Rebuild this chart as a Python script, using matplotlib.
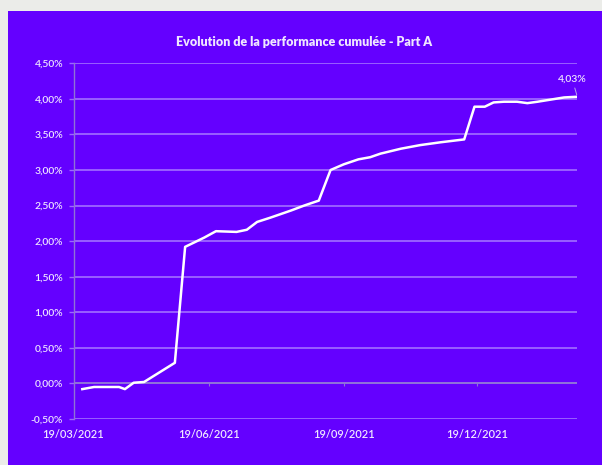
import matplotlib
matplotlib.use("Agg")
import matplotlib.pyplot as plt
import matplotlib.dates as mdates
from matplotlib.ticker import FuncFormatter, MultipleLocator
import pandas as pd

title = "Evolution de la performance cumulée - Part A"

dates = ["2021-03-25", "2021-04-02", "2021-04-15", "2021-04-19", "2021-04-23",
         "2021-04-29", "2021-05-06", "2021-05-27", "2021-06-03", "2021-06-10",
         "2021-06-16", "2021-06-24", "2021-07-08", "2021-07-15", "2021-07-22",
         "2021-07-31", "2021-08-07", "2021-08-14", "2021-08-23", "2021-09-02",
         "2021-09-10", "2021-09-19", "2021-09-29", "2021-10-07", "2021-10-14",
         "2021-10-28", "2021-11-10", "2021-11-24", "2021-12-10", "2021-12-17",
         "2021-12-24", "2021-12-30", "2022-01-06", "2022-01-15", "2022-01-22",
         "2022-01-29", "2022-02-07", "2022-02-16", "2022-02-25"]
perf = [-0.08, -0.05, -0.05, -0.05, -0.08,
        0.01, 0.02, 0.29, 1.92, 1.99,
        2.05, 2.14, 2.13, 2.16, 2.27,
        2.33, 2.38, 2.43, 2.50, 2.57,
        3.00, 3.08, 3.15, 3.18, 3.23,
        3.30, 3.35, 3.39, 3.43, 3.89,
        3.89, 3.95, 3.96, 3.96, 3.94,
        3.96, 3.99, 4.02, 4.03]
xtick_dates = ["2021-03-19", "2021-06-19", "2021-09-19", "2021-12-19"]
last_label = "4,03%"

x = pd.to_datetime(dates)
xt = pd.to_datetime(xtick_dates)

BG = "#ebece9"
PANEL = "#6400ff"
GRID = "#9d66ff"
AXIS = "#8f73d6"
TXT = "#efe6ff"
FONT = ["Lato", "DejaVu Sans"]

fig = plt.figure(figsize=(6.02, 4.65), dpi=100)
fig.patch.set_facecolor(BG)

bg = fig.add_axes([8 / 602, 0, 1 - 8 / 602, (465 - 10.7) / 465], zorder=-5)
bg.set_facecolor(PANEL)
bg.set_xticks([])
bg.set_yticks([])
for s in bg.spines.values():
    s.set_visible(False)

ax = fig.add_axes([73.5 / 602, (465 - 419) / 465, (577.3 - 73.5) / 602, (419 - 63.3) / 465], zorder=1)
ax.set_facecolor("none")

ax.plot(x, perf, color="white", lw=1.8, solid_joinstyle="round", zorder=3)

ax.set_ylim(-0.5, 4.5)
ax.set_xlim(pd.Timestamp("2021-03-19"), pd.Timestamp("2022-02-25"))
ax.yaxis.set_major_locator(MultipleLocator(0.5))
ax.yaxis.set_major_formatter(FuncFormatter(lambda v, p: f"{v:.2f}%".replace(".", ",")))
ax.set_xticks(xt)
ax.xaxis.set_major_formatter(mdates.DateFormatter("%d/%m/%Y"))

ax.grid(axis="y", color=GRID, lw=1.3, zorder=1)
for s in ["top", "right", "bottom"]:
    ax.spines[s].set_visible(False)
ax.spines["left"].set_color(AXIS)
ax.spines["left"].set_linewidth(1.0)
ax.axhline(0, color=AXIS, lw=1.3, zorder=2)

ax.tick_params(axis="y", length=3.5, width=1.0, color=GRID, pad=4, labelsize=7.5, labelcolor=TXT)
ax.tick_params(axis="x", length=0, pad=7, labelsize=8, labelcolor=TXT)
for lab in ax.get_xticklabels() + ax.get_yticklabels():
    lab.set_family(FONT)
    lab.set_fontweight("semibold")

sec = ax.secondary_xaxis(0.1)
sec.set_xticks(xt[1:])
sec.tick_params(axis="x", length=2.5, width=0.8, color=AXIS, labelbottom=False, direction="out")
sec.set_xticklabels([])
sec.spines["bottom"].set_visible(False)

fig.text(304 / 602, 1 - 41.7 / 465, title, ha="center", va="center",
         color=TXT, fontsize=9, fontweight="heavy", family=FONT)

ax.annotate(last_label, xy=(x[-1], perf[-1]), xytext=(-3.6, 12.5),
            textcoords="offset points", ha="center", va="center",
            color=TXT, fontsize=7.5, fontweight="semibold", family=FONT,
            arrowprops=dict(arrowstyle="-", color="#b9a6e8", lw=0.7, shrinkA=1, shrinkB=1.5))

fig.savefig("out.png", dpi=100, facecolor=BG)
